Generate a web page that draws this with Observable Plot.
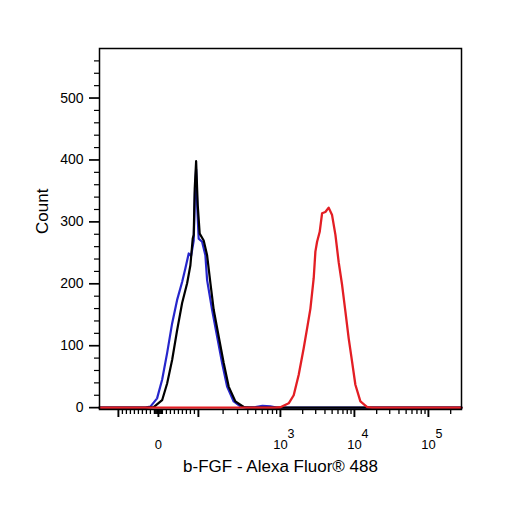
<!DOCTYPE html>
<html>
<head>
<meta charset="utf-8">
<script src="https://cdn.jsdelivr.net/npm/d3@7"></script>
<script src="https://cdn.jsdelivr.net/npm/@observablehq/plot@0.6"></script>
<style>
  html, body { margin: 0; padding: 0; background: #fff; }
</style>
</head>
<body>
<div id="chart"></div>
<script>
// ---- text ----
const xTitle = "b-FGF - Alexa Fluor® 488";
const yTitle = "Count";

// ---- axis extents (fluorescence units / counts) ----
const xDomain = [-170, 280000];
const yDomain = [-3, 580];

// ---- series (fluorescence value, count) ----
const blueX = [-170, -45, -32.5, -20, -3.3, 9.3, 21.8, 34.3, 46.8, 59.3, 67.5, 75.8, 81.8, 88.3, 91.3, 94.3, 97.5, 100.8, 110.9, 121.7, 127.7, 146.9, 169.1, 194.6, 223.9, 269.4, 325, 385, 496, 604, 755, 895, 280000];
const blueY = [0, 0, 0, 1.6, 15, 45, 88, 136, 174, 203, 225, 249, 245, 270, 345, 385, 318, 273, 268, 246, 206, 158, 115, 72, 34, 10, 2, 0, 1, 3, 2, 0, 0];

const blackX = [-170, -32.5, -11.8, 9.3, 21.8, 34.3, 46.8, 59.3, 71.8, 80, 85.8, 88.3, 90.8, 94.3, 98.3, 103.7, 116, 127.7, 140.1, 153.7, 176.8, 203.5, 234.1, 282.6, 356.8, 430, 280000];
const blackY = [0, 0, 1, 12, 39, 77, 125, 169, 201, 230, 273, 279, 354, 398, 327, 281, 270, 246, 201, 158, 115, 72, 34, 10, 1, 0, 0];

const redX = [-170, 865, 1000, 1295, 1513, 1768, 2064, 2295, 2544, 2818, 2970, 3131, 3397, 3660, 4050, 4490, 4990, 5540, 6130, 6820, 7560, 8370, 9310, 10310, 12050, 14900, 17500, 280000];
const redY = [0, 0, 0.6, 7, 20, 53, 96, 128, 160, 209, 252, 268, 284, 314, 316, 323, 311, 279, 235, 198, 155, 112, 74, 37, 10, 1, 0, 0];

// ---- ticks ----
const xMajorTicks = [-100, 0, 100, 1000, 10000, 100000];
const xLabelTicks = [0, 1000, 10000, 100000];
const xLabelBase = ["0", "10", "10", "10"];
const xLabelExp = ["", "3", "4", "5"];
const xMinorMultipliers = [2, 3, 4, 5, 6, 7, 8, 9];
const xLinearMinor = [-90, -80, -70, -60, -50, -40, -30, -20, -10, -8, -6, -4, -2, 2, 4, 6, 8, 10, 20, 30, 40, 50, 60, 70, 80, 90];
const yMajorTicks = [0, 100, 200, 300, 400, 500];
const yMinorStep = 20;

// biexponential-like display transform (linear near zero, log above 100)
function biex(v) {
  const a = Math.abs(v), s = Math.sign(v);
  if (a <= 100) return 0.4 * v;
  if (a <= 1000) return s * (40 + 82 * Math.log10(a / 100));
  return s * (122 + 74 * Math.log10(a / 1000));
}

const xMinorTicks = xLinearMinor.concat(
  ...[100, 1000, 10000].map(d => xMinorMultipliers.map(m => m * d)),
  [200000]
);
const yMinorTicks = d3.range(yMinorStep, yDomain[1], yMinorStep).filter(v => v % 100 !== 0);

const toRows = (xs, ys) => xs.map((x, i) => ({x, y: ys[i]}));
const blue = toRows(blueX, blueY);
const black = toRows(blackX, blackY);
const red = toRows(redX, redY);

const chart = Plot.plot({
  width: 506,
  height: 506,
  marginLeft: 99,
  marginRight: 45,
  marginTop: 48,
  marginBottom: 97,
  style: {fontFamily: "'Liberation Sans', Arial, sans-serif", color: "black", background: "white"},
  x: {type: "linear", domain: xDomain.map(biex), axis: null},
  y: {domain: yDomain, axis: null},
  marks: [
    Plot.line(blue, {x: d => biex(d.x), y: "y", stroke: "#2626cc", strokeWidth: 2.2}),
    Plot.line(black, {x: d => biex(d.x), y: "y", stroke: "#000", strokeWidth: 2.2}),
    Plot.line(red, {x: d => biex(d.x), y: "y", stroke: "#e31e24", strokeWidth: 2.3}),
    Plot.frame({stroke: "black", strokeWidth: 1.5}),
    // y axis
    Plot.axisY({ticks: yMajorTicks, tickSize: 10, tickPadding: 6, fontSize: 14, strokeWidth: 1.7, label: null}),
    Plot.axisY({ticks: yMinorTicks, tickSize: 5, tickFormat: () => "", strokeWidth: 1.2, label: null}),
    // x axis ticks
    Plot.axisX({ticks: xMajorTicks.map(biex), tickSize: 8, tickFormat: () => "", strokeWidth: 1.9, label: null}),
    Plot.axisX({ticks: xMinorTicks.map(biex), tickSize: 5, tickFormat: () => "", strokeWidth: 1.3, label: null}),
    // x tick labels (base and exponent)
    Plot.text(xLabelTicks, {x: d => biex(d), text: (d, i) => xLabelBase[i], frameAnchor: "bottom", dy: 39.5, fontSize: 13}),
    Plot.text(xLabelTicks, {x: d => biex(d), text: (d, i) => xLabelExp[i], frameAnchor: "bottom", dx: 7, dy: 28.5, textAnchor: "start", fontSize: 12.5}),
    // axis titles
    Plot.text([xTitle], {frameAnchor: "bottom", dy: 62, fontSize: 17}),
    Plot.text([yTitle], {frameAnchor: "left", dx: -57, dy: 5, rotate: -90, fontSize: 17})
  ]
});
document.getElementById("chart").appendChild(chart);
</script>
</body>
</html>
